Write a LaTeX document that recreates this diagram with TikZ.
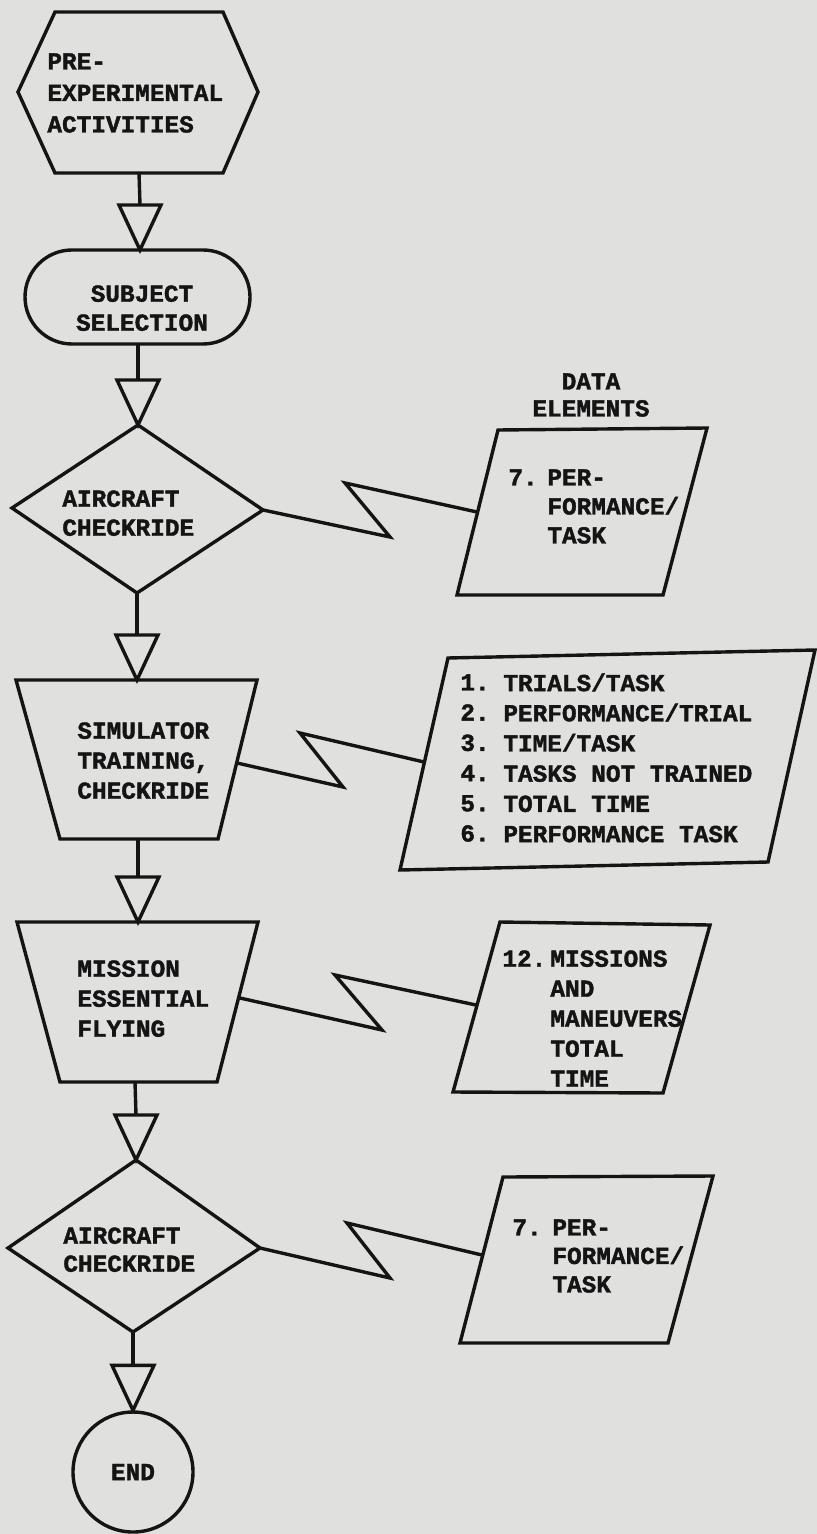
\documentclass[tikz,border=0pt]{standalone}
\usepackage{fontspec}
\newfontfamily\labfont[BoldFont={Liberation Mono Bold}, BoldFeatures={FakeBold=1.6}]{Liberation Mono}
\usetikzlibrary{calc}
\definecolor{paper}{RGB}{224,224,222}
\definecolor{ink}{RGB}{20,20,20}
\tikzset{
  shape line/.style={draw=ink, line width=1.7pt, line join=miter},
  lbl/.style={font=\labfont\bfseries\fontsize{12.2}{#1}\selectfont, text=ink, inner sep=0pt, align=left, anchor=north west},
  lbl/.default={15},
  clbl/.style={font=\labfont\bfseries\fontsize{12.2}{#1}\selectfont, text=ink, inner sep=0pt, align=center, anchor=north},
  clbl/.default={15},
}
\newcommand\flowdown[2]{%
  \draw[shape line] (#1) -- ($(#2)+(0,-45)$);
  \draw[shape line] ($(#2)+(-21,-45)$) -- ($(#2)+(21,-45)$) -- (#2) -- cycle;}
\begin{document}
\begin{tikzpicture}[x=0.5pt,y=-0.5pt]
\fill[paper] (0,0) rectangle (817,1534);
\useasboundingbox (0,0) rectangle (817,1534);

% ---------- pre-experimental hexagon
\coordinate (hexNW) at (55,12);
\coordinate (hexNE) at (223,12);
\coordinate (hexE) at (258,92);
\coordinate (hexSE) at (223,173);
\coordinate (hexSW) at (55,173);
\coordinate (hexW) at (18,92);
\coordinate (hexS) at (139,173);
\draw[shape line] (hexNW) -- (hexNE) -- (hexE) -- (hexSE) -- (hexSW) -- (hexW) -- cycle;
\node[lbl=15.75] (hexT) at (47,53) {PRE-\\EXPERIMENTAL\\ACTIVITIES};

% ---------- subject selection (stadium)
\coordinate (stadN) at (140,250);
\coordinate (stadS) at (138,344);
\draw[shape line, rounded corners=23.5pt] (25,250) rectangle (250,344);
\node[clbl=14.5] (stadT) at (142,285) {SUBJECT\\SELECTION};

% ---------- aircraft checkride 1 (diamond)
\coordinate (d1N) at (138,425);
\coordinate (d1E) at (263,510);
\coordinate (d1S) at (137,593);
\coordinate (d1W) at (12,508);
\draw[shape line] (d1N) -- (d1E) -- (d1S) -- (d1W) -- cycle;
\node[lbl=14.5] (d1T) at (62,490) {AIRCRAFT\\CHECKRIDE};

% ---------- simulator training (trapezoid)
\coordinate (tr1NW) at (16,680);
\coordinate (tr1NE) at (257,680);
\coordinate (tr1SE) at (218,839);
\coordinate (tr1SW) at (60,839);
\coordinate (tr1N) at (137,680);
\coordinate (tr1S) at (138,839);
\coordinate (tr1E) at (237,763);
\draw[shape line] (tr1NW) -- (tr1NE) -- (tr1SE) -- (tr1SW) -- cycle;
\node[lbl=15] (tr1T) at (77,722) {SIMULATOR\\TRAINING,\\CHECKRIDE};

% ---------- mission essential flying (trapezoid)
\coordinate (tr2NW) at (17,922);
\coordinate (tr2NE) at (258,922);
\coordinate (tr2SE) at (217,1082);
\coordinate (tr2SW) at (60,1082);
\coordinate (tr2N) at (138,922);
\coordinate (tr2S) at (135,1082);
\coordinate (tr2E) at (240,998);
\draw[shape line] (tr2NW) -- (tr2NE) -- (tr2SE) -- (tr2SW) -- cycle;
\node[lbl=15] (tr2T) at (77,960) {MISSION\\ESSENTIAL\\FLYING};

% ---------- aircraft checkride 2 (diamond)
\coordinate (d2N) at (136,1160);
\coordinate (d2E) at (260,1248);
\coordinate (d2S) at (133,1332);
\coordinate (d2W) at (8,1248);
\draw[shape line] (d2N) -- (d2E) -- (d2S) -- (d2W) -- cycle;
\node[lbl=14] (d2T) at (63,1227) {AIRCRAFT\\CHECKRIDE};

% ---------- end (circle)
\node[shape line, circle, minimum size=60pt, inner sep=0pt,
      font=\labfont\bfseries\fontsize{12.2}{15}\selectfont, text=ink] (endc) at (133,1472) {END};

% ---------- flow arrows
\flowdown{hexS}{stadN}
\flowdown{stadS}{d1N}
\flowdown{d1S}{tr1N}
\flowdown{tr1S}{tr2N}
\flowdown{tr2S}{d2N}
\flowdown{d2S}{endc.north}

% ---------- data elements header
\node[clbl=13.5] (hdr) at (591,373) {DATA\\ELEMENTS};

% ---------- box 0
\coordinate (b0NW) at (498,430);
\coordinate (b0NE) at (707,428);
\coordinate (b0SE) at (663,595);
\coordinate (b0SW) at (457,595);
\coordinate (b0W) at (477,512);
\draw[shape line] (b0NW) -- (b0NE) -- (b0SE) -- (b0SW) -- cycle;
\node[lbl=14.5] (b0num) at (508,469) {7.};
\node[lbl=14.5] (b0txt) at (547,469) {PER-\\FORMANCE/\\TASK};

% ---------- box 1
\coordinate (b1NW) at (448,658);
\coordinate (b1NE) at (815,650);
\coordinate (b1SE) at (768,862);
\coordinate (b1SW) at (400,870);
\coordinate (b1W) at (424,762);
\draw[shape line] (b1NW) -- (b1NE) -- (b1SE) -- (b1SW) -- cycle;
\node[lbl=15.1] (b1num) at (460,674) {1.\\2.\\3.\\4.\\5.\\6.};
\node[lbl=15.1] (b1txt) at (503,673) {TRIALS/TASK\\PERFORMANCE/TRIAL\\TIME/TASK\\TASKS NOT TRAINED\\TOTAL TIME\\PERFORMANCE TASK};

% ---------- box 2
\coordinate (b2NW) at (500,922);
\coordinate (b2NE) at (710,925);
\coordinate (b2SE) at (663,1093);
\coordinate (b2SW) at (453,1092);
\coordinate (b2W) at (476,1005);
\draw[shape line] (b2NW) -- (b2NE) -- (b2SE) -- (b2SW) -- cycle;
\node[lbl=15] (b2num) at (502,950) {12.};
\node[lbl=15] (b2txt) at (550,950) {MISSIONS\\AND\\MANEUVERS\\TOTAL\\TIME};

% ---------- box 3
\coordinate (b3NW) at (503,1177);
\coordinate (b3NE) at (713,1176);
\coordinate (b3SE) at (668,1343);
\coordinate (b3SW) at (460,1343);
\coordinate (b3W) at (482,1255);
\draw[shape line] (b3NW) -- (b3NE) -- (b3SE) -- (b3SW) -- cycle;
\node[lbl=14.25] (b3num) at (512,1219) {7.};
\node[lbl=14.25] (b3txt) at (552,1219) {PER-\\FORMANCE/\\TASK};

% ---------- lightning connectors
\draw[shape line] (d1E) -- ++(127,27) -- ++(-45,-54) -- (b0W);
\draw[shape line] (tr1E) -- ++(106,24) -- ++(-43,-54) -- (b1W);
\draw[shape line] (tr2E) -- ++(142,32) -- ++(-47,-55) -- (b2W);
\draw[shape line] (d2E) -- ++(130,30) -- ++(-43,-55) -- (b3W);
\end{tikzpicture}
\end{document}
